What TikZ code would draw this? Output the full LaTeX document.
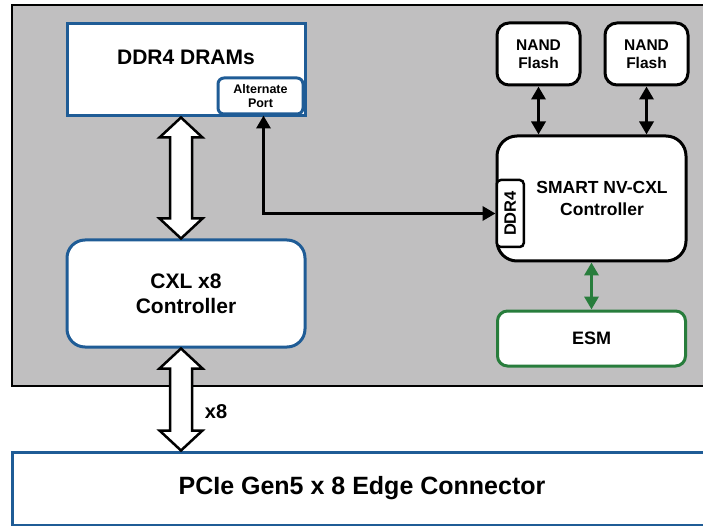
\documentclass[tikz,border=0pt]{standalone}
\usepackage{fontspec}
\setmainfont{Liberation Sans}
\usetikzlibrary{positioning,calc,arrows.meta}
\definecolor{boxblue}{RGB}{31,92,150}
\definecolor{esmgreen}{RGB}{40,125,60}
\definecolor{boardgray}{RGB}{192,191,192}

\begin{document}
\begin{tikzpicture}[x=1pt,y=-1pt,
  bluebox/.style={draw=boxblue,line width=3pt,fill=white,font=\bfseries,align=center},
  blackbox/.style={draw=black,line width=3pt,fill=white,rounded corners=12pt,font=\bfseries,align=center},
  fat/.style={draw=black,line width=2.5pt,fill=white,line join=miter},
  link/.style={line width=3.5pt,{Triangle[length=13pt,width=14pt]}-{Triangle[length=13pt,width=14pt]}}]
    \def\fatarrow#1#2{\draw[fat] (#1) -- ($(#1)+(21.5,20)$) -- ($(#1)+(11,20)$) -- ($(#2)+(11,-20)$) -- ($(#2)+(21.5,-20)$) -- (#2) -- ($(#2)+(-21.5,-20)$) -- ($(#2)+(-11,-20)$) -- ($(#1)+(-11,20)$) -- ($(#1)+(-21.5,20)$) -- cycle;}
    \clip (0,0) rectangle (703,526);
    \draw [fill=boardgray,line width=2pt] (12,5) rectangle (720,386);
    % left column
    \node[bluebox,minimum width=238pt,minimum height=92pt] (dram) at (186,70) {};
    \node[font=\bfseries\fontsize{21}{23}\selectfont] (dramtxt) at (186,57) {DDR4 DRAMs};
    \node[bluebox,rounded corners=6pt,minimum width=85pt,minimum height=36pt,inner sep=1pt,
          font=\bfseries\fontsize{12.5}{13.5}\selectfont,anchor=south east] (alt) at ([xshift=-2pt,yshift=2pt]dram.south east) {Alternate\\Port};
    \node[bluebox,rounded corners=18pt,minimum width=238pt,minimum height=107pt,
          font=\bfseries\fontsize{21}{25}\selectfont] (cxl) at (186,293.5) {CXL x8\\Controller};
    \node[bluebox,minimum width=700pt,minimum height=73pt,
          font=\bfseries\fontsize{25}{28}\selectfont] (pcie) at (362,488.5) {PCIe Gen5 x 8 Edge Connector};
    % right column
    \node[blackbox,rounded corners=20pt,minimum width=189pt,minimum height=125pt] (ctrl) at (591.5,198.5) {};
    \node[font=\bfseries\fontsize{17.5}{22}\selectfont,align=center] (ctrltxt) at (602,198) {SMART NV-CXL\\Controller};
    \node[draw=black,line width=2.5pt,fill=white,rounded corners=4pt,minimum width=27pt,minimum height=67pt,inner sep=0pt,
          font=\bfseries\fontsize{16.5}{18}\selectfont,anchor=west] (ddrtag) at ([yshift=-15pt]ctrl.west) {\rotatebox{90}{DDR4}};
    \node[blackbox,minimum width=83pt,minimum height=62pt,font=\bfseries\fontsize{15.5}{18}\selectfont] (nandA) at (538.5,54) {NAND\\Flash};
    \node[blackbox,minimum width=83pt,minimum height=62pt,font=\bfseries\fontsize{15.5}{18}\selectfont,right=22pt of nandA] (nandB) {NAND\\Flash};
    \node[draw=esmgreen,line width=3pt,fill=white,rounded corners=10pt,minimum width=188pt,minimum height=55pt,
          font=\bfseries\fontsize{18}{20}\selectfont,below=47pt of ctrl] (esm) {ESM};
    % links
    \coordinate (upA) at ([xshift=-5pt]dram.south);
    \coordinate (upB) at ([xshift=-5pt]cxl.north);
    \fatarrow{upA}{upB}
    \coordinate (dnA) at ([xshift=-5pt]cxl.south);
    \coordinate (dnB) at (dnA |- pcie.north);
    \fatarrow{dnA}{dnB}
    \node[font=\bfseries\fontsize{20}{22}\selectfont] (xeight) at (216,412) {x8};
    \draw[link] ([xshift=3pt]alt.south) |- (ddrtag.west);
    \draw[link] (nandA.south) -- (nandA.south |- ctrl.north);
    \draw[link] (nandB.south) -- (nandB.south |- ctrl.north);
    \draw[link,esmgreen] (ctrl.south) -- (esm.north);
\end{tikzpicture}
\end{document}
